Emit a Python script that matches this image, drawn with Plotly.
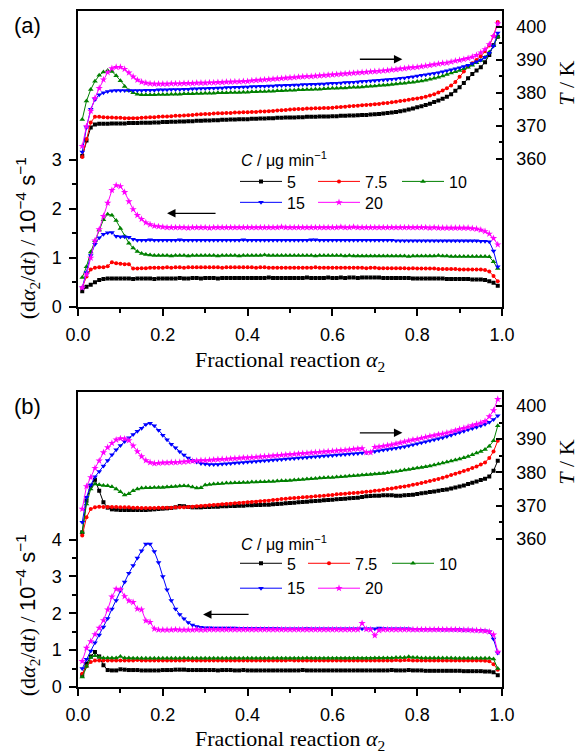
import plotly.graph_objects as go

# Fractional reaction grid (alpha_2)
alpha = [round(0.01 * i, 2) for i in range(1, 100)]

conc_labels = ["5", "7.5", "10", "15", "20"]
colors = ["#000000", "#ff0000", "#008000", "#0000ff", "#ff00ff"]
symbols = ["square", "circle", "triangle-up", "triangle-down", "star"]
msizes = [4, 4, 5, 5, 5.5]

# ---------------- panel (a): reaction rate, 10^-4 s^-1 ----------------
rate_a_5 = [
    0.32, 0.41, 0.45, 0.50, 0.55, 0.57, 0.58, 0.58, 0.58, 0.58,
    0.58, 0.58, 0.57, 0.58, 0.58, 0.58, 0.58, 0.57, 0.58, 0.58,
    0.58, 0.58, 0.58, 0.59, 0.58, 0.58, 0.59, 0.59, 0.58, 0.59,
    0.59, 0.59, 0.58, 0.59, 0.59, 0.59, 0.59, 0.59, 0.59, 0.59,
    0.59, 0.59, 0.59, 0.59, 0.60, 0.59, 0.59, 0.59, 0.59, 0.59,
    0.59, 0.59, 0.59, 0.60, 0.59, 0.59, 0.59, 0.59, 0.60, 0.59,
    0.59, 0.60, 0.59, 0.60, 0.60, 0.59, 0.60, 0.60, 0.60, 0.60,
    0.60, 0.59, 0.59, 0.59, 0.59, 0.59, 0.59, 0.59, 0.58, 0.58,
    0.58, 0.58, 0.58, 0.58, 0.58, 0.58, 0.57, 0.57, 0.57, 0.57,
    0.57, 0.57, 0.56, 0.56, 0.56, 0.55, 0.52, 0.49, 0.43]
rate_a_7_5 = [
    0.39, 0.62, 0.76, 0.80, 0.81, 0.81, 0.83, 0.91, 0.89, 0.88,
    0.87, 0.87, 0.78, 0.78, 0.79, 0.79, 0.80, 0.80, 0.80, 0.80,
    0.81, 0.80, 0.81, 0.81, 0.80, 0.81, 0.81, 0.81, 0.81, 0.81,
    0.81, 0.81, 0.81, 0.80, 0.81, 0.81, 0.81, 0.81, 0.81, 0.81,
    0.81, 0.80, 0.81, 0.81, 0.80, 0.80, 0.80, 0.80, 0.80, 0.80,
    0.80, 0.80, 0.80, 0.80, 0.80, 0.81, 0.80, 0.80, 0.80, 0.80,
    0.80, 0.80, 0.80, 0.80, 0.80, 0.80, 0.80, 0.79, 0.80, 0.80,
    0.79, 0.79, 0.79, 0.79, 0.79, 0.79, 0.79, 0.78, 0.79, 0.78,
    0.78, 0.78, 0.78, 0.78, 0.77, 0.77, 0.77, 0.77, 0.77, 0.76,
    0.76, 0.76, 0.76, 0.76, 0.76, 0.75, 0.72, 0.63, 0.52]
rate_a_10 = [
    0.60, 0.82, 1.12, 1.35, 1.57, 1.78, 1.89, 1.87, 1.76, 1.60,
    1.44, 1.30, 1.20, 1.13, 1.09, 1.07, 1.06, 1.05, 1.05, 1.05,
    1.05, 1.04, 1.05, 1.05, 1.05, 1.04, 1.05, 1.05, 1.05, 1.05,
    1.05, 1.05, 1.04, 1.05, 1.05, 1.05, 1.05, 1.04, 1.05, 1.05,
    1.05, 1.05, 1.05, 1.06, 1.05, 1.05, 1.05, 1.05, 1.05, 1.05,
    1.05, 1.05, 1.05, 1.05, 1.05, 1.04, 1.05, 1.05, 1.05, 1.05,
    1.05, 1.05, 1.04, 1.05, 1.04, 1.04, 1.04, 1.04, 1.04, 1.04,
    1.04, 1.04, 1.04, 1.04, 1.04, 1.04, 1.04, 1.03, 1.04, 1.04,
    1.04, 1.04, 1.04, 1.04, 1.05, 1.04, 1.04, 1.03, 1.03, 1.03,
    1.03, 1.03, 1.03, 1.03, 1.03, 1.03, 1.02, 0.92, 0.78]
rate_a_15 = [
    0.39, 0.70, 1.05, 1.28, 1.41, 1.48, 1.51, 1.52, 1.44, 1.43,
    1.43, 1.42, 1.38, 1.36, 1.36, 1.36, 1.37, 1.36, 1.36, 1.36,
    1.36, 1.36, 1.36, 1.37, 1.36, 1.36, 1.36, 1.36, 1.36, 1.36,
    1.36, 1.36, 1.36, 1.36, 1.36, 1.36, 1.36, 1.36, 1.37, 1.36,
    1.36, 1.36, 1.36, 1.36, 1.36, 1.36, 1.36, 1.36, 1.36, 1.36,
    1.36, 1.36, 1.36, 1.36, 1.37, 1.37, 1.36, 1.36, 1.36, 1.36,
    1.36, 1.36, 1.36, 1.36, 1.36, 1.36, 1.36, 1.36, 1.36, 1.36,
    1.36, 1.36, 1.36, 1.36, 1.35, 1.35, 1.35, 1.35, 1.35, 1.35,
    1.35, 1.35, 1.35, 1.35, 1.35, 1.35, 1.35, 1.35, 1.35, 1.35,
    1.35, 1.35, 1.35, 1.35, 1.34, 1.34, 1.33, 1.14, 0.82]
rate_a_20 = [
    0.39, 0.66, 1.00, 1.35, 1.58, 1.85, 2.12, 2.38, 2.48, 2.46,
    2.34, 2.15, 1.99, 1.87, 1.79, 1.72, 1.68, 1.65, 1.64, 1.63,
    1.62, 1.62, 1.62, 1.62, 1.62, 1.61, 1.62, 1.62, 1.62, 1.62,
    1.61, 1.62, 1.62, 1.62, 1.62, 1.62, 1.62, 1.62, 1.62, 1.62,
    1.62, 1.62, 1.62, 1.62, 1.62, 1.62, 1.62, 1.63, 1.62, 1.62,
    1.62, 1.62, 1.62, 1.62, 1.62, 1.62, 1.62, 1.62, 1.62, 1.62,
    1.62, 1.63, 1.62, 1.62, 1.63, 1.62, 1.62, 1.62, 1.62, 1.62,
    1.62, 1.62, 1.62, 1.62, 1.62, 1.62, 1.62, 1.62, 1.62, 1.62,
    1.62, 1.62, 1.61, 1.62, 1.61, 1.61, 1.61, 1.61, 1.61, 1.61,
    1.61, 1.61, 1.60, 1.59, 1.57, 1.54, 1.49, 1.40, 1.27]

# ---------------- panel (a): temperature, K ----------------
temp_a_5 = [
    360.8, 365.5, 369.5, 370.4, 370.6, 370.6, 370.6, 370.7, 370.7, 370.7,
    370.7, 370.8, 370.8, 370.8, 370.9, 370.9, 370.9, 371.0, 371.0, 371.1,
    371.1, 371.2, 371.2, 371.3, 371.3, 371.4, 371.4, 371.5, 371.5, 371.6,
    371.6, 371.7, 371.7, 371.8, 371.8, 371.9, 371.9, 372.0, 372.0, 372.0,
    372.1, 372.1, 372.2, 372.2, 372.3, 372.3, 372.4, 372.4, 372.5, 372.5,
    372.5, 372.6, 372.6, 372.7, 372.7, 372.7, 372.8, 372.8, 372.8, 372.9,
    372.9, 373.0, 373.0, 373.1, 373.1, 373.2, 373.3, 373.3, 373.4, 373.5,
    373.6, 373.7, 373.9, 374.0, 374.2, 374.4, 374.6, 374.9, 375.2, 375.6,
    375.9, 376.3, 376.7, 377.2, 377.7, 378.2, 378.8, 379.6, 380.6, 381.7,
    383.0, 384.4, 385.7, 386.8, 387.8, 389.3, 391.5, 394.5, 397.0]
temp_a_7_5 = [
    360.5, 366.0, 371.0, 372.7, 372.7, 372.6, 372.5, 372.5, 372.4, 372.4,
    372.3, 372.3, 372.3, 372.3, 372.4, 372.5, 372.6, 372.6, 372.7, 372.8,
    372.8, 372.9, 373.0, 373.0, 373.1, 373.2, 373.3, 373.4, 373.5, 373.6,
    373.6, 373.7, 373.8, 373.8, 373.9, 373.9, 374.0, 374.0, 374.1, 374.1,
    374.2, 374.2, 374.3, 374.3, 374.4, 374.5, 374.6, 374.7, 374.8, 374.9,
    375.0, 375.1, 375.1, 375.2, 375.2, 375.3, 375.3, 375.4, 375.4, 375.5,
    375.6, 375.7, 375.8, 375.9, 376.0, 376.1, 376.2, 376.3, 376.4, 376.5,
    376.6, 376.8, 376.9, 377.1, 377.3, 377.5, 377.7, 377.9, 378.1, 378.3,
    378.5, 378.8, 379.2, 379.6, 380.1, 380.7, 381.4, 382.2, 383.3, 384.9,
    386.5, 388.0, 389.0, 390.0, 391.1, 392.6, 394.4, 397.2, 401.5]
temp_a_10 = [
    371.9, 377.5, 381.0, 383.5, 385.3, 386.3, 386.8, 386.5, 385.2, 383.7,
    381.9, 380.7, 380.0, 379.6, 379.4, 379.4, 379.4, 379.4, 379.5, 379.5,
    379.5, 379.6, 379.6, 379.6, 379.7, 379.7, 379.7, 379.8, 379.8, 379.9,
    379.9, 379.9, 380.0, 380.0, 380.0, 380.1, 380.1, 380.1, 380.2, 380.2,
    380.3, 380.3, 380.4, 380.4, 380.5, 380.5, 380.6, 380.6, 380.7, 380.8,
    380.8, 380.9, 380.9, 381.0, 381.0, 381.1, 381.1, 381.2, 381.3, 381.4,
    381.4, 381.5, 381.5, 381.6, 381.7, 381.7, 381.8, 381.9, 382.0, 382.1,
    382.2, 382.3, 382.4, 382.5, 382.7, 382.8, 382.9, 383.1, 383.2, 383.4,
    383.6, 383.8, 384.1, 384.4, 384.7, 385.1, 385.6, 386.0, 386.4, 386.8,
    387.3, 387.8, 388.4, 389.1, 389.8, 390.8, 392.3, 394.3, 397.0]
temp_a_15 = [
    362.0, 369.5, 375.0, 378.0, 379.4, 380.0, 380.4, 380.6, 380.7, 380.7,
    380.7, 380.7, 380.7, 380.7, 380.7, 380.8, 380.8, 380.8, 380.9, 380.9,
    380.9, 381.0, 381.0, 381.0, 381.1, 381.1, 381.2, 381.2, 381.3, 381.3,
    381.4, 381.4, 381.5, 381.5, 381.6, 381.6, 381.7, 381.7, 381.8, 381.8,
    381.9, 381.9, 382.0, 382.0, 382.1, 382.1, 382.2, 382.2, 382.3, 382.3,
    382.4, 382.4, 382.5, 382.5, 382.6, 382.6, 382.7, 382.7, 382.8, 382.9,
    382.9, 383.0, 383.1, 383.1, 383.2, 383.3, 383.4, 383.5, 383.6, 383.7,
    383.8, 383.9, 384.0, 384.1, 384.2, 384.4, 384.5, 384.7, 384.9, 385.1,
    385.3, 385.5, 385.7, 385.9, 386.1, 386.4, 386.7, 387.0, 387.3, 387.6,
    388.0, 388.4, 388.9, 389.4, 390.0, 390.8, 392.0, 394.2, 398.2]
temp_a_20 = [
    363.8, 369.8, 374.5, 378.4, 381.4, 384.0, 386.2, 387.4, 387.8, 387.8,
    387.2, 386.1, 384.9, 383.9, 383.3, 383.0, 382.8, 382.7, 382.7, 382.7,
    382.7, 382.8, 382.8, 382.8, 382.9, 382.9, 382.9, 383.0, 383.0, 383.0,
    383.1, 383.1, 383.2, 383.2, 383.3, 383.3, 383.4, 383.4, 383.5, 383.5,
    383.7, 383.8, 383.9, 384.0, 384.1, 384.2, 384.3, 384.4, 384.5, 384.6,
    384.7, 384.8, 384.9, 385.0, 385.0, 385.1, 385.2, 385.3, 385.4, 385.5,
    385.6, 385.7, 385.8, 385.9, 386.0, 386.1, 386.2, 386.3, 386.4, 386.5,
    386.6, 386.7, 386.8, 387.0, 387.1, 387.3, 387.4, 387.6, 387.7, 387.8,
    388.0, 388.2, 388.4, 388.6, 388.8, 389.0, 389.1, 389.4, 389.7, 389.9,
    390.2, 390.5, 390.9, 391.4, 392.2, 393.2, 394.7, 397.2, 401.0]

# ---------------- panel (b): reaction rate, 10^-4 s^-1 ----------------
rate_b_5 = [
    0.32, 0.63, 0.83, 0.95, 0.83, 0.59, 0.46, 0.45, 0.45, 0.48,
    0.47, 0.46, 0.46, 0.46, 0.45, 0.45, 0.45, 0.45, 0.45, 0.46,
    0.46, 0.46, 0.47, 0.47, 0.47, 0.46, 0.46, 0.46, 0.46, 0.46,
    0.46, 0.46, 0.45, 0.46, 0.46, 0.46, 0.45, 0.45, 0.46, 0.45,
    0.45, 0.45, 0.45, 0.45, 0.45, 0.45, 0.45, 0.45, 0.45, 0.45,
    0.45, 0.45, 0.46, 0.45, 0.45, 0.45, 0.45, 0.45, 0.45, 0.45,
    0.45, 0.45, 0.45, 0.45, 0.45, 0.45, 0.45, 0.45, 0.45, 0.45,
    0.45, 0.45, 0.45, 0.46, 0.45, 0.45, 0.45, 0.46, 0.45, 0.45,
    0.45, 0.44, 0.44, 0.44, 0.44, 0.44, 0.44, 0.44, 0.44, 0.44,
    0.43, 0.43, 0.43, 0.43, 0.43, 0.42, 0.42, 0.40, 0.32]
rate_b_7_5 = [
    0.36, 0.56, 0.68, 0.72, 0.72, 0.72, 0.72, 0.72, 0.72, 0.72,
    0.72, 0.72, 0.72, 0.73, 0.72, 0.72, 0.72, 0.72, 0.72, 0.72,
    0.72, 0.72, 0.72, 0.72, 0.72, 0.73, 0.72, 0.72, 0.72, 0.72,
    0.72, 0.72, 0.72, 0.72, 0.72, 0.72, 0.72, 0.72, 0.72, 0.72,
    0.72, 0.72, 0.72, 0.72, 0.72, 0.72, 0.72, 0.72, 0.72, 0.73,
    0.72, 0.72, 0.72, 0.72, 0.72, 0.72, 0.72, 0.72, 0.72, 0.72,
    0.72, 0.72, 0.72, 0.72, 0.72, 0.72, 0.72, 0.72, 0.72, 0.72,
    0.72, 0.72, 0.72, 0.72, 0.73, 0.72, 0.73, 0.73, 0.72, 0.72,
    0.72, 0.72, 0.72, 0.72, 0.72, 0.72, 0.72, 0.72, 0.72, 0.72,
    0.72, 0.72, 0.72, 0.72, 0.72, 0.71, 0.70, 0.62, 0.47]
rate_b_10 = [
    0.27, 0.56, 0.80, 0.85, 0.81, 0.79, 0.79, 0.79, 0.79, 0.83,
    0.79, 0.79, 0.78, 0.78, 0.78, 0.78, 0.78, 0.78, 0.78, 0.78,
    0.78, 0.78, 0.78, 0.78, 0.79, 0.78, 0.78, 0.78, 0.78, 0.78,
    0.78, 0.78, 0.78, 0.78, 0.78, 0.78, 0.78, 0.78, 0.78, 0.78,
    0.78, 0.78, 0.78, 0.78, 0.78, 0.78, 0.78, 0.78, 0.78, 0.78,
    0.78, 0.78, 0.78, 0.79, 0.78, 0.78, 0.78, 0.78, 0.78, 0.78,
    0.78, 0.78, 0.78, 0.78, 0.78, 0.78, 0.78, 0.78, 0.78, 0.79,
    0.79, 0.79, 0.79, 0.79, 0.80, 0.80, 0.80, 0.82, 0.80, 0.80,
    0.79, 0.79, 0.79, 0.79, 0.79, 0.79, 0.79, 0.79, 0.78, 0.78,
    0.78, 0.78, 0.78, 0.78, 0.78, 0.78, 0.78, 0.76, 0.50]
rate_b_15 = [
    0.50, 0.75, 0.98, 1.20, 1.41, 1.63, 1.86, 2.12, 2.35, 2.62,
    2.85, 3.09, 3.30, 3.50, 3.70, 3.88, 3.88, 3.68, 3.38, 3.00,
    2.64, 2.35, 2.12, 1.97, 1.85, 1.75, 1.68, 1.64, 1.62, 1.61,
    1.61, 1.60, 1.60, 1.60, 1.60, 1.60, 1.60, 1.59, 1.59, 1.59,
    1.59, 1.59, 1.59, 1.59, 1.59, 1.59, 1.59, 1.58, 1.58, 1.58,
    1.58, 1.58, 1.58, 1.59, 1.58, 1.58, 1.58, 1.58, 1.58, 1.58,
    1.58, 1.58, 1.58, 1.58, 1.58, 1.58, 1.58, 1.58, 1.58, 1.58,
    1.60, 1.59, 1.58, 1.58, 1.58, 1.58, 1.58, 1.58, 1.57, 1.57,
    1.57, 1.57, 1.57, 1.57, 1.57, 1.56, 1.56, 1.56, 1.56, 1.56,
    1.55, 1.55, 1.55, 1.54, 1.54, 1.53, 1.50, 1.30, 0.92]
rate_b_20 = [
    0.70, 1.06, 1.24, 1.43, 1.60, 1.81, 2.10, 2.45, 2.66, 2.65,
    2.46, 2.34, 2.30, 2.12, 2.10, 1.80, 1.76, 1.58, 1.55, 1.55,
    1.55, 1.55, 1.56, 1.55, 1.55, 1.55, 1.55, 1.56, 1.55, 1.55,
    1.56, 1.56, 1.56, 1.56, 1.56, 1.56, 1.56, 1.56, 1.56, 1.56,
    1.56, 1.56, 1.56, 1.56, 1.56, 1.56, 1.56, 1.56, 1.56, 1.56,
    1.56, 1.56, 1.56, 1.56, 1.56, 1.56, 1.56, 1.56, 1.56, 1.56,
    1.56, 1.56, 1.56, 1.56, 1.56, 1.56, 1.73, 1.57, 1.56, 1.40,
    1.54, 1.56, 1.56, 1.56, 1.56, 1.56, 1.56, 1.56, 1.56, 1.56,
    1.56, 1.56, 1.56, 1.56, 1.56, 1.56, 1.56, 1.56, 1.56, 1.55,
    1.55, 1.55, 1.54, 1.54, 1.53, 1.52, 1.50, 1.42, 0.95]

# ---------------- panel (b): temperature, K ----------------
temp_b_5 = [
    362.0, 371.5, 376.0, 377.8, 374.5, 371.0, 369.4, 368.9, 368.8, 368.7,
    368.7, 368.7, 368.7, 368.7, 368.7, 368.7, 368.8, 368.9, 369.0, 369.1,
    369.2, 369.3, 369.5, 369.9, 369.8, 369.6, 369.5, 369.5, 369.5, 369.6,
    369.6, 369.7, 369.7, 369.8, 369.8, 369.9, 369.9, 370.0, 370.0, 370.1,
    370.1, 370.2, 370.2, 370.3, 370.3, 370.4, 370.5, 370.6, 370.7, 370.8,
    370.9, 371.0, 371.1, 371.2, 371.3, 371.4, 371.5, 371.6, 371.7, 371.8,
    371.9, 372.0, 372.1, 372.2, 372.3, 372.4, 372.6, 372.8, 372.9, 373.0,
    373.0, 373.1, 373.1, 373.1, 373.0, 373.0, 373.1, 373.2, 373.3, 373.5,
    373.7, 373.9, 374.1, 374.3, 374.5, 374.7, 374.9, 375.2, 375.5, 375.8,
    376.1, 376.5, 376.9, 377.3, 377.7, 378.1, 378.8, 380.5, 383.5]
temp_b_7_5 = [
    361.0, 366.5, 369.0, 369.5, 369.7, 369.6, 369.6, 369.6, 369.6, 369.5,
    369.5, 369.5, 369.4, 369.4, 369.3, 369.3, 369.3, 369.3, 369.4, 369.4,
    369.4, 369.4, 369.5, 369.5, 369.5, 369.6, 369.7, 369.8, 369.9, 370.0,
    370.1, 370.2, 370.3, 370.4, 370.5, 370.6, 370.7, 370.8, 370.9, 371.0,
    371.1, 371.2, 371.3, 371.4, 371.5, 371.7, 371.8, 372.0, 372.1, 372.2,
    372.3, 372.4, 372.5, 372.6, 372.7, 372.8, 372.9, 373.0, 373.1, 373.2,
    373.4, 373.5, 373.6, 373.7, 373.8, 373.9, 374.0, 374.2, 374.3, 374.5,
    374.6, 374.8, 375.0, 375.2, 375.4, 375.6, 375.8, 376.0, 376.3, 376.5,
    376.8, 377.1, 377.4, 377.7, 378.0, 378.4, 378.8, 379.2, 379.6, 380.0,
    380.4, 380.8, 381.3, 381.8, 382.4, 383.0, 384.3, 386.3, 389.5]
temp_b_10 = [
    362.0, 370.5, 375.0, 376.5, 376.3, 376.1, 376.0, 375.7, 375.0, 374.2,
    373.2, 373.6, 374.5, 375.0, 375.3, 375.4, 375.4, 375.5, 375.5, 375.5,
    375.6, 375.7, 375.8, 375.9, 376.0, 375.9, 375.6, 375.3, 375.4, 376.2,
    376.4, 376.5, 376.6, 376.7, 376.8, 376.8, 376.9, 376.9, 377.0, 377.0,
    377.1, 377.1, 377.2, 377.2, 377.3, 377.3, 377.4, 377.5, 377.5, 377.6,
    377.7, 377.8, 377.9, 378.0, 378.1, 378.2, 378.3, 378.4, 378.5, 378.5,
    378.6, 378.7, 378.8, 378.9, 379.0, 379.1, 379.2, 379.3, 379.4, 379.5,
    379.6, 379.7, 379.9, 380.1, 380.3, 380.5, 380.7, 380.9, 381.1, 381.3,
    381.5, 381.7, 381.9, 382.2, 382.5, 382.8, 383.1, 383.4, 383.7, 384.0,
    384.4, 384.8, 385.3, 385.8, 386.3, 386.9, 387.9, 389.5, 394.0]
temp_b_15 = [
    365.0, 372.5, 376.2, 378.7, 380.3, 381.9, 383.6, 385.3, 386.8, 388.1,
    389.3, 390.4, 391.4, 392.4, 393.3, 394.4, 394.8, 394.0, 392.7, 391.2,
    389.8, 388.5, 387.4, 386.2, 385.2, 384.3, 383.6, 383.1, 382.7, 382.5,
    382.4, 382.4, 382.4, 382.5, 382.6, 382.7, 382.8, 382.9, 383.0, 383.1,
    383.2, 383.3, 383.4, 383.5, 383.6, 383.7, 383.8, 383.9, 384.0, 384.1,
    384.2, 384.3, 384.4, 384.5, 384.6, 384.7, 384.8, 384.9, 385.0, 385.1,
    385.2, 385.3, 385.4, 385.5, 385.6, 385.7, 385.8, 386.0, 386.1, 386.3,
    386.5, 386.7, 386.9, 387.1, 387.3, 387.5, 387.7, 388.0, 388.3, 388.6,
    388.9, 389.2, 389.5, 389.8, 390.1, 390.4, 390.8, 391.2, 391.6, 392.0,
    392.4, 392.8, 393.2, 393.6, 394.0, 394.5, 395.1, 395.9, 397.0]
temp_b_20 = [
    369.0, 375.8, 378.5, 381.3, 383.5, 386.0, 387.5, 388.8, 389.8, 390.2,
    390.1, 389.6, 388.0, 386.3, 384.8, 383.6, 383.0, 382.7, 382.8, 382.9,
    382.9, 383.0, 383.0, 383.1, 383.2, 383.3, 383.4, 383.5, 383.6, 383.6,
    383.7, 383.8, 383.9, 384.0, 384.0, 384.1, 384.2, 384.3, 384.4, 384.4,
    384.5, 384.6, 384.7, 384.8, 384.9, 385.0, 385.1, 385.2, 385.3, 385.4,
    385.5, 385.6, 385.7, 385.8, 385.9, 386.0, 386.1, 386.2, 386.3, 386.4,
    386.5, 386.6, 386.7, 386.8, 387.0, 387.1, 387.2, 386.0, 386.0, 387.6,
    387.7, 387.9, 388.1, 388.3, 388.6, 388.9, 389.2, 389.5, 389.8, 390.0,
    390.3, 390.6, 390.9, 391.1, 391.4, 391.6, 391.9, 392.2, 392.6, 393.0,
    393.3, 393.7, 394.1, 394.5, 394.9, 395.4, 396.8, 398.6, 402.0]

rates_a = [rate_a_5, rate_a_7_5, rate_a_10, rate_a_15, rate_a_20]
temps_a = [temp_a_5, temp_a_7_5, temp_a_10, temp_a_15, temp_a_20]
rates_b = [rate_b_5, rate_b_7_5, rate_b_10, rate_b_15, rate_b_20]
temps_b = [temp_b_5, temp_b_7_5, temp_b_10, temp_b_15, temp_b_20]

SANS = "Liberation Sans, Arial, sans-serif"
SERIF = "Liberation Serif, Times New Roman, serif"

W, H = 579, 756
ML, MR, MT, MB = 78, 77, 9, 69
PW, PH = W - ML - MR, H - MT - MB


def px_x(x):
    return (x - ML) / PW


def px_y(y):
    return 1 - (y - MT) / PH


fig = go.Figure()

# legend slots: (line-start x px, centre y px) per concentration and panel
legend_pos_a = [(240, 180), (318, 180), (402, 180), (240, 201), (318, 201)]
legend_pos_b = [(240, 563), (308, 563), (392, 563), (240, 588), (318, 588)]

legend_layouts = {}
for panel, (rates, temps, xa, yr, yt, lpos, offset) in enumerate([
        (rates_a, temps_a, "x", "y", "y2", legend_pos_a, 0),
        (rates_b, temps_b, "x2", "y3", "y4", legend_pos_b, 5)]):
    for i in range(5):
        leg_name = "legend" if (offset + i) == 0 else f"legend{offset + i + 1}"
        style = dict(
            mode="lines+markers",
            line=dict(color=colors[i], width=1),
            marker=dict(symbol=symbols[i], size=msizes[i], color=colors[i],
                        line=dict(width=0)),
        )
        fig.add_trace(go.Scatter(x=alpha, y=temps[i], xaxis=xa, yaxis=yt,
                                 showlegend=False, name=conc_labels[i], **style))
        fig.add_trace(go.Scatter(x=alpha, y=rates[i], xaxis=xa, yaxis=yr,
                                 showlegend=True, legend=leg_name,
                                 name=conc_labels[i], **style))
        lx, ly = lpos[i]
        legend_layouts[leg_name] = dict(
            x=px_x(lx - 5), y=px_y(ly), xanchor="left", yanchor="middle",
            orientation="h", bgcolor="rgba(0,0,0,0)", borderwidth=0,
            itemwidth=42, font=dict(family=SANS, size=16, color="black"),
            tracegroupgap=0,
        )

axis_common = dict(showline=True, linecolor="black", linewidth=1.5,
                   showgrid=False, zeroline=False, tickcolor="black",
                   tickwidth=1.5, tickfont=dict(family=SANS, size=18, color="black"))

x_ticks = [0, 0.2, 0.4, 0.6, 0.8, 1.0]
x_minor = [0.1, 0.3, 0.5, 0.7, 0.9]
xaxis_cfg = dict(range=[0, 1], tickvals=x_ticks,
                 ticktext=[f"{v:.1f}" for v in x_ticks], ticks="outside",
                 ticklen=7, mirror=True, ticklabelstandoff=4,
                 minor=dict(tickvals=x_minor, ticks="outside", ticklen=4,
                            tickwidth=1.5, tickcolor="black"),
                 **axis_common)

t_ticks = [360, 370, 380, 390, 400]
t_minor = [365, 375, 385, 395]
taxis_cfg = dict(side="right", tickvals=t_ticks, ticks="inside", ticklen=6,
                 ticklabelstandoff=9,
                 minor=dict(tickvals=t_minor, ticks="inside", ticklen=3.5,
                            tickwidth=1.5, tickcolor="black"),
                 **axis_common)

dom_a = [px_y(305.7), 1.0]
dom_b = [0.0, px_y(390.7)]

fig.update_layout(
    width=W, height=H,
    margin=dict(l=ML, r=MR, t=MT, b=MB, pad=0),
    paper_bgcolor="white", plot_bgcolor="white",
    xaxis=dict(anchor="y", domain=[0, 1], **xaxis_cfg),
    yaxis=dict(anchor="x", domain=dom_a, range=[0, 6.04],
               tickvals=[0, 1, 2, 3], ticks="outside", ticklen=7, mirror=True,
               ticklabelstandoff=4,
               minor=dict(tickvals=[0.5, 1.5, 2.5], ticks="outside", ticklen=4,
                          tickwidth=1.5, tickcolor="black"),
               **axis_common),
    yaxis2=dict(anchor="x", overlaying="y", range=[315.0, 404.85], **taxis_cfg),
    xaxis2=dict(anchor="y3", domain=[0, 1], **xaxis_cfg),
    yaxis3=dict(anchor="x2", domain=dom_b, range=[0, 8.02],
                tickvals=[0, 1, 2, 3, 4], ticks="outside", ticklen=7, mirror=True,
                ticklabelstandoff=4,
                minor=dict(tickvals=[0.5, 1.5, 2.5, 3.5], ticks="outside",
                           ticklen=4, tickwidth=1.5, tickcolor="black"),
                **axis_common),
    yaxis4=dict(anchor="x2", overlaying="y3", range=[315.5, 404.3], **taxis_cfg),
    **legend_layouts,
)

ann = []
rate_title = ('(d<i>α</i><sub>2</sub>/d<i>t</i>) / '
              f'<span style="font-family:{SANS}">10<sup>−4</sup> s<sup>−1</sup></span>')
for lab, ylab, yx, yrate, ytemp, ylegt in [("(a)", 24, 360, 237, 82, 157),
                                           ("(b)", 406, 740, 615, 462, 543)]:
    ann.append(dict(text=lab, x=px_x(12), y=px_y(ylab), xref="paper", yref="paper",
                    xanchor="left", yanchor="middle", showarrow=False,
                    font=dict(family=SANS, size=22, color="black")))
    ann.append(dict(text="Fractional reaction <i>α</i><sub>2</sub>", x=0.5,
                    y=px_y(yx), xref="paper", yref="paper", xanchor="center",
                    yanchor="middle", showarrow=False,
                    font=dict(family=SERIF, size=22, color="black")))
    ann.append(dict(text=rate_title, x=px_x(27), y=px_y(yrate), xref="paper",
                    yref="paper", xanchor="center", yanchor="middle",
                    textangle=-90, showarrow=False,
                    font=dict(family=SERIF, size=22, color="black")))
    ann.append(dict(text="<i>T</i> / K", x=px_x(567), y=px_y(ytemp), xref="paper",
                    yref="paper", xanchor="center", yanchor="middle",
                    textangle=-90, showarrow=False,
                    font=dict(family=SERIF, size=22, color="black")))
    ann.append(dict(text="<i>C</i> / μg min<sup>−1</sup>", x=px_x(239),
                    y=px_y(ylegt), xref="paper", yref="paper", xanchor="left",
                    yanchor="middle", showarrow=False,
                    font=dict(family=SANS, size=16, color="black")))

# direction arrows: temperature -> right axis, rate -> left axis
arrow_style = dict(showarrow=True, arrowhead=2, arrowsize=1.3, arrowwidth=1.3,
                   arrowcolor="black", text="", axref="pixel", ayref="pixel")
ann.append(dict(x=0.765, y=390.2, xref="x", yref="y2", ax=-44, ay=0, **arrow_style))
ann.append(dict(x=0.21, y=1.91, xref="x", yref="y", ax=50, ay=0, **arrow_style))
ann.append(dict(x=0.765, y=391.9, xref="x2", yref="y4", ax=-44, ay=0, **arrow_style))
ann.append(dict(x=0.295, y=1.97, xref="x2", yref="y3", ax=47, ay=0, **arrow_style))

fig.update_layout(annotations=ann)

fig.write_html("out.html")
